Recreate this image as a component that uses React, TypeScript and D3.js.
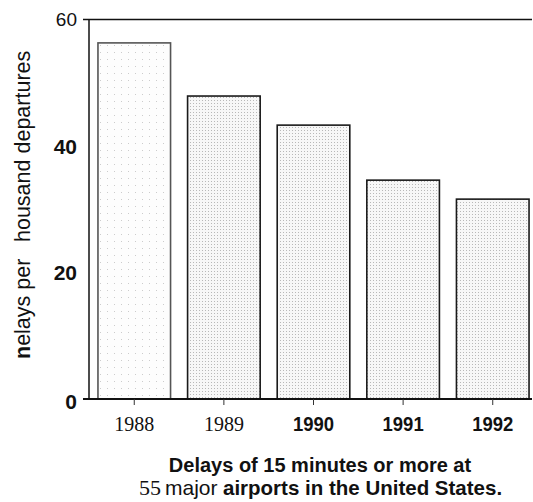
import React from "react";
import * as d3 from "d3";

const years = ["1988", "1989", "1990", "1991", "1992"];
const delays = [56.3, 47.9, 43.3, 34.6, 31.6];
const yTicks = [0, 20, 40, 60];
const yTitleA = "nelays per";
const yTitleB = "housand departures";
const captionLine1 = "Delays of 15 minutes or more at";
const captionLine2 = ["55", "major", "airports in the United States."];

const W = 533;
const H = 502;
const SANS = "Arial, 'Liberation Sans', sans-serif";
const SERIF = "'Times New Roman', 'Liberation Serif', serif";

export default function App() {
  const x = d3.scaleBand<string>().domain(years).range([89, 538]).paddingInner(0.19).paddingOuter(0.1);
  const y = d3.scaleLinear().domain([0, 60]).range([399, 19.5]);
  const bw = x.bandwidth();
  const serifYears = new Set(["1988", "1989"]);

  return (
    <svg
      width={W}
      height={H}
      viewBox={`0 0 ${W} ${H}`}
      style={{ position: "absolute", left: 0, top: 0, background: "#fff", display: "block" }}
    >
      <defs>
        <pattern id="dotsLight" width="7" height="7" patternUnits="userSpaceOnUse">
          <rect width="7" height="7" fill="#fdfdfd" />
          <rect x="2" y="3" width="1" height="1" fill="#cccccc" />
        </pattern>
        <pattern id="dots" width="3" height="3" patternUnits="userSpaceOnUse">
          <rect width="3" height="3" fill="#f7f7f7" />
          <rect x="1" y="1" width="1" height="1" fill="#b8b8b8" />
        </pattern>
      </defs>

      {/* bars */}
      {years.map((yr, i) => {
        const x0 = x(yr)!;
        const top = y(delays[i]);
        return (
          <rect
            key={yr}
            x={x0}
            y={top}
            width={bw}
            height={y(0) - top}
            fill={i === 0 ? "url(#dotsLight)" : "url(#dots)"}
            stroke={i === 0 ? "#555" : "#1a1a1a"}
            strokeWidth={1.6}
          />
        );
      })}

      {/* frame lines */}
      <line x1={89} x2={89} y1={y(60)} y2={y(0)} stroke="#111" strokeWidth={1.5} />
      <line x1={83} x2={532} y1={y(60)} y2={y(60)} stroke="#111" strokeWidth={1.5} />
      <line x1={83} x2={532} y1={y(0)} y2={y(0)} stroke="#111" strokeWidth={2} />

      {/* x ticks */}
      {years.map((yr) => {
        const cx = x(yr)! + bw / 2;
        return <line key={"t" + yr} x1={cx} x2={cx} y1={y(0)} y2={y(0) + 6} stroke="#333" strokeWidth={1} />;
      })}

      {/* y tick labels */}
      {yTicks.map((t) => (
        <text
          key={"y" + t}
          x={77}
          y={y(t) + (t === 0 ? 2 : 0)}
          dy="0.36em"
          textAnchor="end"
          fontFamily={SANS}
          fontSize={t === 60 ? 19 : 21}
          fontWeight={t === 60 ? "normal" : "bold"}
          fill="#111"
        >
          {t}
        </text>
      ))}

      {/* x labels */}
      {years.map((yr) => {
        const cx = x(yr)! + bw / 2;
        if (serifYears.has(yr)) {
          return (
            <text key={"l" + yr} x={cx} y={431} textAnchor="middle" fontFamily={SERIF} fontSize={20} fill="#111">
              {yr}
            </text>
          );
        }
        return (
          <text
            key={"l" + yr}
            transform={`translate(${cx},431) scale(0.88,1)`}
            textAnchor="middle"
            fontFamily={SANS}
            fontSize={21}
            fontWeight="bold"
            fill="#111"
          >
            {yr}
          </text>
        );
      })}

      {/* y axis title */}
      <text transform="translate(30,359) rotate(-90)" textAnchor="start" fontFamily={SANS} fontSize={21.5} fill="#111">
        <tspan fontWeight="bold">{yTitleA[0]}</tspan>
        {yTitleA.slice(1)}
      </text>
      <text transform="translate(30,242) rotate(-90)" textAnchor="start" fontFamily={SANS} fontSize={21.5} fill="#111">
        {yTitleB}
      </text>

      {/* caption */}
      <text x={320} y={472} textAnchor="middle" fontFamily={SANS} fontSize={20} fontWeight="bold" fill="#111">
        {captionLine1}
      </text>
      <text y={495} fill="#111">
        <tspan x={139} fontFamily={SERIF} fontSize={22}>{captionLine2[0]}</tspan>
        <tspan x={165} fontFamily={SANS} fontSize={21}>{captionLine2[1]}</tspan>
        <tspan x={223} fontFamily={SANS} fontSize={20.5} fontWeight="bold">{captionLine2[2]}</tspan>
      </text>
    </svg>
  );
}
